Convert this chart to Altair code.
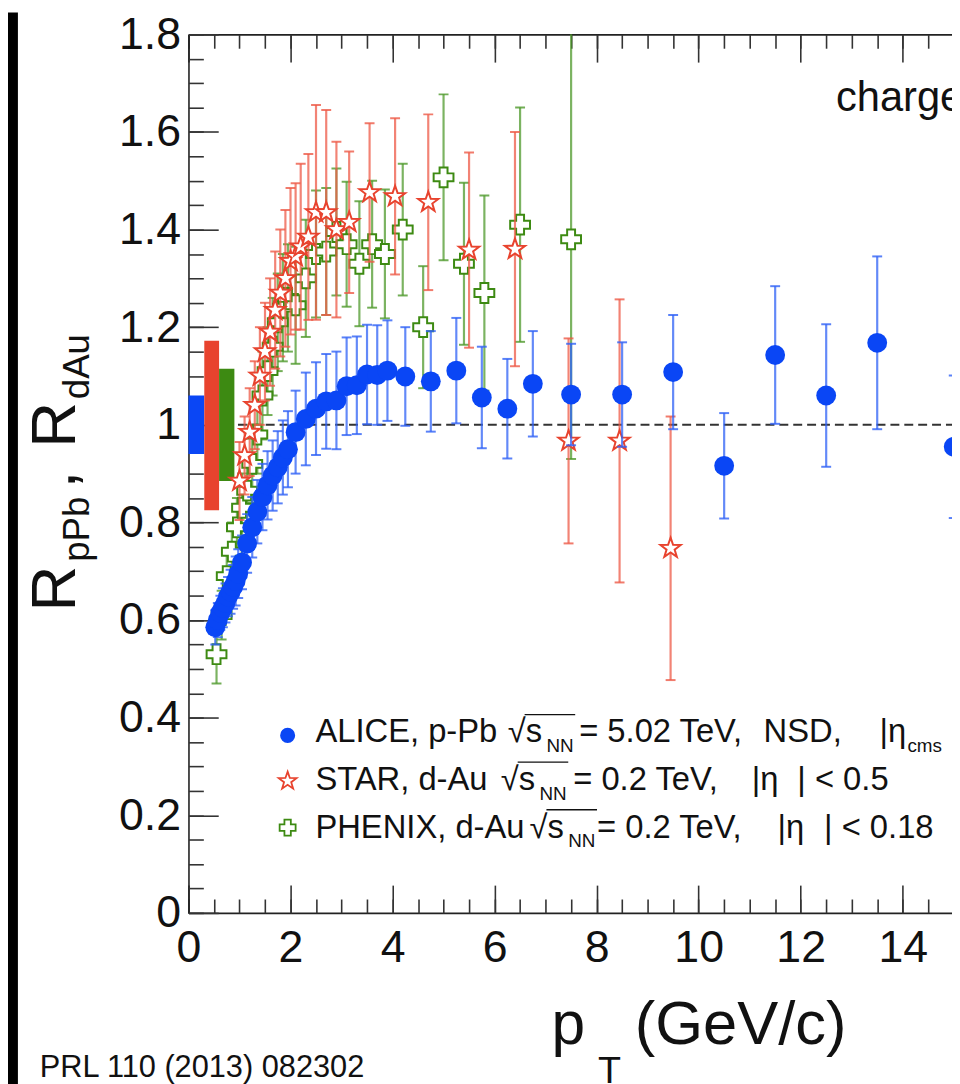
import altair as alt
import pandas as pd

# ---------------- data ----------------
alice_pt = [0.525, 0.575, 0.625, 0.675, 0.725, 0.775, 0.825, 0.875, 0.925, 0.975,
            1.05, 1.15, 1.25, 1.35, 1.45, 1.55, 1.65, 1.75, 1.85, 1.95,
            2.1, 2.3, 2.5, 2.7, 2.9, 3.1, 3.3, 3.5, 3.7, 3.9,
            4.25, 4.75, 5.25, 5.75, 6.25, 6.75, 7.5, 8.5, 9.5, 10.5, 11.5, 12.5, 13.5, 15.0]
alice_r = [0.585, 0.600, 0.615, 0.625, 0.635, 0.648, 0.658, 0.668, 0.680, 0.695,
           0.718, 0.757, 0.790, 0.822, 0.852, 0.876, 0.896, 0.913, 0.933, 0.950,
           0.985, 1.012, 1.033, 1.048, 1.050, 1.079, 1.081, 1.103, 1.102, 1.111,
           1.099, 1.089, 1.111, 1.056, 1.033, 1.084, 1.062, 1.062, 1.108, 0.916,
           1.143, 1.060, 1.168, 0.955]
alice_err = [0.035, 0.035, 0.035, 0.040, 0.040, 0.040, 0.045, 0.045, 0.050, 0.050,
             0.055, 0.060, 0.062, 0.065, 0.068, 0.070, 0.072, 0.074, 0.076, 0.078,
             0.085, 0.095, 0.095, 0.097, 0.100, 0.100, 0.100, 0.102, 0.102, 0.103,
             0.101, 0.103, 0.108, 0.104, 0.102, 0.108, 0.104, 0.107, 0.117, 0.108,
             0.141, 0.146, 0.177, 0.146]

star_pt = [1.0, 1.1, 1.2, 1.3, 1.4, 1.5, 1.6, 1.7, 1.8, 1.9, 2.0, 2.1, 2.2, 2.35,
           2.5, 2.7, 2.9, 3.15, 3.55, 4.05, 4.7, 5.5, 6.4, 7.45, 8.45, 9.45]
star_r = [0.885, 0.937, 0.985, 1.040, 1.100, 1.150, 1.190, 1.235, 1.270, 1.300,
          1.335, 1.345, 1.365, 1.385, 1.435, 1.435, 1.400, 1.415, 1.476, 1.468,
          1.456, 1.358, 1.360, 0.967, 0.967, 0.747]
star_err = [0.08, 0.08, 0.09, 0.09, 0.10, 0.10, 0.11, 0.12, 0.13, 0.14, 0.15, 0.15,
            0.17, 0.17, 0.22, 0.21, 0.18, 0.145, 0.142, 0.16, 0.18, 0.20, 0.24,
            0.21, 0.29, 0.27]

phenix_pt = [0.55, 0.65, 0.75, 0.85, 0.95, 1.05, 1.15, 1.25, 1.35, 1.45, 1.55, 1.65,
             1.75, 1.85, 1.95, 2.1, 2.3, 2.5, 2.7, 2.9, 3.1, 3.35, 3.6, 3.85, 4.2,
             4.6, 5.0, 5.4, 5.8, 6.5, 7.5]
phenix_r = [0.53, 0.61, 0.69, 0.74, 0.79, 0.83, 0.865, 0.92, 0.98, 1.06, 1.11, 1.16,
            1.21, 1.24, 1.26, 1.245, 1.30, 1.35, 1.355, 1.395, 1.37, 1.33, 1.37,
            1.35, 1.40, 1.20, 1.507, 1.33, 1.27, 1.41, 1.38]
phenix_err = [0.06, 0.05, 0.05, 0.06, 0.06, 0.07, 0.07, 0.08, 0.08, 0.09, 0.09, 0.10,
              0.10, 0.11, 0.11, 0.12, 0.12, 0.13, 0.13, 0.13, 0.128, 0.128, 0.13,
              0.132, 0.135, 0.125, 0.17, 0.166, 0.20, 0.24, 0.45]

# normalisation uncertainty boxes around unity
box_x0 = [0.0, 0.31, 0.60]
box_x1 = [0.31, 0.60, 0.90]
box_lo = [0.94, 0.825, 0.885]
box_hi = [1.06, 1.172, 1.115]
box_name = ["ALICE", "STAR", "PHENIX"]

ref_x = [0.97, 15.0]
ref_y = [1.0, 1.0]

x_major = [0, 2, 4, 6, 8, 10, 12, 14]
y_major = [0, 0.2, 0.4, 0.6, 0.8, 1.0, 1.2, 1.4, 1.6, 1.8]

# ---------------- styling ----------------
FONT = "Liberation Sans"
BLUE, RED, GREEN = "#0a46f5", "#e8432e", "#3d8a12"
BLUE_BAR, RED_BAR, GREEN_BAR = "#2f62f6", "#ee5a47", "#4f9a2c"
X_DOMAIN = [0.0, 14.966]
Y_DOMAIN = [0.0, 1.8]
W, H = 770, 886

xs = alt.Scale(domain=X_DOMAIN, nice=False, zero=False)
ys = alt.Scale(domain=Y_DOMAIN, nice=False, zero=False)
x_minor = [i * 0.5 for i in range(31)]
y_minor = [round(i * 0.05, 2) for i in range(37)]

dummy = pd.DataFrame({"k": [0]})
carrier = pd.DataFrame({"x": [0.0], "y": [0.0]})


def axis_layer(xaxis, yaxis):
    return alt.Chart(carrier).mark_point(opacity=0).encode(
        x=alt.X("x:Q", scale=xs, axis=xaxis),
        y=alt.Y("y:Q", scale=ys, axis=yaxis),
    )


def tick_axis(orient, values, size):
    return alt.Axis(orient=orient, values=values, labels=False, domain=False,
                    ticks=True, tickSize=size, tickWidth=1.6, tickColor="#333333",
                    offset=-size, title=None, grid=False)


ax_x_lab = alt.Axis(orient="bottom", values=x_major, format="d", labelFont=FONT,
                    labelFontSize=45, labelColor="#111111", labelPadding=13,
                    ticks=False, domain=True, domainColor="#222222", domainWidth=1.6,
                    title=None, grid=False, labelFlush=False, labelOverlap=False)
ax_y_lab = alt.Axis(orient="left", values=y_major, format=".1~f", labelFont=FONT,
                    labelFontSize=45, labelColor="#111111", labelPadding=8,
                    ticks=False, domain=True, domainColor="#222222", domainWidth=1.6,
                    title=None, grid=False, labelFlush=False, labelOverlap=False)
ax_x_top = alt.Axis(orient="top", labels=False, ticks=False, domain=True,
                    domainColor="#222222", domainWidth=1.6, title=None, grid=False)

axes = [
    axis_layer(ax_x_lab, ax_y_lab),
    axis_layer(tick_axis("bottom", x_major, 28), tick_axis("left", y_major, 30)),
    axis_layer(tick_axis("bottom", x_minor, 14), tick_axis("left", y_minor, 15)),
    axis_layer(ax_x_top, None),
    axis_layer(tick_axis("top", x_major, 28), None),
    axis_layer(tick_axis("top", x_minor, 14), None),
]

# ---------------- boxes and reference line ----------------
boxes_df = pd.DataFrame({"x0": box_x0, "x1": box_x1, "lo": box_lo, "hi": box_hi,
                         "name": box_name})
boxes = alt.Chart(boxes_df).mark_rect(opacity=1).encode(
    x=alt.X("x0:Q", scale=xs, axis=None), x2="x1:Q",
    y=alt.Y("lo:Q", scale=ys, axis=None), y2="hi:Q",
    color=alt.Color("name:N", scale=alt.Scale(domain=box_name, range=[BLUE, RED, GREEN]),
                    legend=None),
)

ref_df = pd.DataFrame({"x": ref_x, "y": ref_y})
ref = alt.Chart(ref_df).mark_line(color="#333333", strokeWidth=2, strokeDash=[9, 5],
                                  clip=True).encode(
    x=alt.X("x:Q", scale=xs, axis=None), y=alt.Y("y:Q", scale=ys, axis=None))

STAR_PATH = ("M0,-1L0.235,-0.324L0.951,-0.309L0.38,0.124L0.588,0.809L0,0.4"
             "L-0.588,0.809L-0.38,0.124L-0.951,-0.309L-0.235,-0.324Z")


def series(pt, r, err, bar_color, mark):
    df = pd.DataFrame({"pt": pt, "r": r, "err": err})
    df["lo"] = df["r"] - df["err"]
    df["hi"] = df["r"] + df["err"]
    base = alt.Chart(df)
    X = alt.X("pt:Q", scale=xs, axis=None)
    bars = base.mark_rule(color=bar_color, strokeWidth=2.2, opacity=0.75, clip=True).encode(
        x=X, y=alt.Y("lo:Q", scale=ys, axis=None), y2="hi:Q")
    cap_lo = base.mark_tick(orient="horizontal", size=10, thickness=2, color=bar_color,
                            opacity=0.8, clip=True).encode(
        x=X, y=alt.Y("lo:Q", scale=ys, axis=None))
    cap_hi = base.mark_tick(orient="horizontal", size=10, thickness=2, color=bar_color,
                            opacity=0.8, clip=True).encode(
        x=X, y=alt.Y("hi:Q", scale=ys, axis=None))
    pts = base.mark_point(clip=True, **mark).encode(
        x=X, y=alt.Y("r:Q", scale=ys, axis=None))
    return [bars, cap_lo, cap_hi, pts]


green_layers = series(phenix_pt, phenix_r, phenix_err, GREEN_BAR,
                      dict(shape="cross", size=400, filled=True, fill="white",
                           stroke=GREEN, strokeWidth=2, opacity=1))
red_layers = series(star_pt, star_r, star_err, RED_BAR,
                    dict(shape=STAR_PATH, size=460, filled=True, fill="white",
                         stroke=RED, strokeWidth=2, opacity=1))
blue_layers = series(alice_pt, alice_r, alice_err, BLUE_BAR,
                     dict(shape="circle", size=400, filled=True, color=BLUE, opacity=1))


# ---------------- text helpers (pixel positions relative to plot origin) --------
def txt(s, x, y, size, angle=0, color="#111111", align="left"):
    return alt.Chart(dummy).mark_text(text=s, font=FONT, fontSize=size, angle=angle,
                                      align=align, baseline="alphabetic",
                                      color=color).encode(
        x=alt.value(x), y=alt.value(y))


def hline(x1, x2, y, w=1.4):
    return alt.Chart(dummy).mark_rule(color="#111111", strokeWidth=w).encode(
        x=alt.value(x1), x2=alt.value(x2), y=alt.value(y))


def marker(x, y, **kw):
    return alt.Chart(dummy).mark_point(**kw).encode(x=alt.value(x), y=alt.value(y))


LF = 33   # legend font size
LS = 19   # legend subscript size
texts = [
    # y-axis title  R_pPb , R_dAu  (rotated)
    txt("R", -114, 582, 64, angle=270),
    txt("pPb", -100, 532, 37, angle=270),
    txt(",", -114, 458, 64, angle=270),
    txt("R", -114, 417, 64, angle=270),
    txt("dAu", -100, 368, 37, angle=270),
    # x-axis title  p_T (GeV/c)
    txt("p", 366, 1018, 61),
    txt("T", 413, 1058, 38),
    txt("(GeV/c)", 450, 1018, 62),
    # reference
    txt("PRL 110 (2013) 082302", -150, 1051, 31),
    # panel label (cut at the right edge)
    txt("charged particles", 653, 77, 42),
    # legend row 1
    txt("ALICE, p-Pb", 128, 714, LF),
    txt("\u221as", 322, 714, LF),
    txt("NN", 361, 724, LS),
    txt("= 5.02 TeV,", 394, 714, LF),
    txt("NSD,", 580, 714, LF),
    txt("|\u03b7", 697, 714, LF),
    txt("cms", 725, 724, LS),
    txt("| < 0.3", 770, 714, LF),
    # legend row 2
    txt("STAR, d-Au", 128, 762, LF),
    txt("\u221as", 315, 762, LF),
    txt("NN", 354, 772, LS),
    txt("= 0.2 TeV,", 388, 762, LF),
    txt("|\u03b7", 568, 762, LF),
    txt("| < 0.5", 614, 762, LF),
    # legend row 3
    txt("PHENIX, d-Au", 128, 810, LF),
    txt("\u221as", 344, 810, LF),
    txt("NN", 383, 820, LS),
    txt("= 0.2 TeV,", 412, 810, LF),
    txt("|\u03b7", 594, 810, LF),
    txt("| < 0.18", 641, 810, LF),
    hline(339, 390, 686),
    hline(332, 383, 734),
    hline(361, 412, 782),
    marker(100, 707, shape="circle", size=230, filled=True, color=BLUE, opacity=1),
    marker(100, 753, shape=STAR_PATH, size=360, filled=True, fill="white", stroke=RED,
           strokeWidth=1.8, opacity=1),
    marker(100, 800, shape="cross", size=260, filled=True, fill="white", stroke=GREEN,
           strokeWidth=1.8, opacity=1),
]

strip = alt.Chart(dummy).mark_rect(color="black").encode(
    x=alt.value(-182), x2=alt.value(-172), y=alt.value(-22), y2=alt.value(1060))

layers = axes + [boxes, ref] + green_layers + red_layers + blue_layers + texts + [strip]

chart = alt.layer(*layers).resolve_axis(x="independent", y="independent").properties(
    width=W, height=H,
    autosize=alt.AutoSizeParams(type="none"),
    padding={"left": 182, "top": 22, "right": 0, "bottom": 168},
    background="white",
).configure_view(stroke=None)

chart.save("out.html", embed_options={"renderer": "svg", "actions": False})
